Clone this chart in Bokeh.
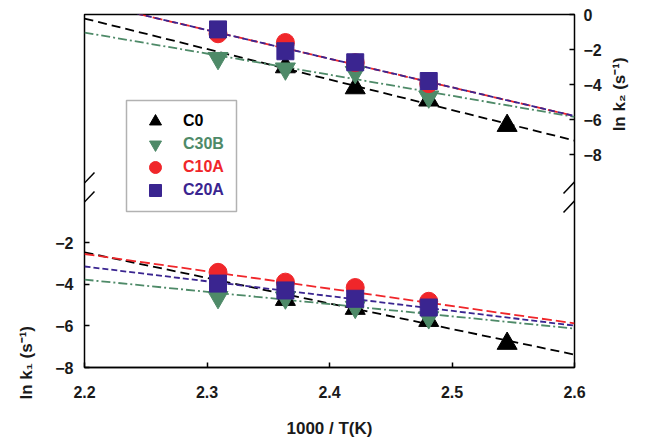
import math
from bokeh.plotting import figure
from bokeh.models import (Range1d, LinearAxis, FixedTicker, Legend, LegendItem,
                          Arrow, BoxAnnotation)
from bokeh.embed import file_html
from bokeh.resources import INLINE

# ---------------- data ----------------
series = ["C0", "C30B", "C10A", "C20A"]
colors = {"C0": "#000000", "C30B": "#4e8a68", "C10A": "#f0262a", "C20A": "#3a2590"}
markers = {"C0": "triangle", "C30B": "inverted_triangle", "C10A": "circle", "C20A": "square"}
msize = {"C0": 20, "C30B": 20, "C10A": 18, "C20A": 17}

x_c0 = [2.364, 2.421, 2.481, 2.545]
x_oth = [2.309, 2.364, 2.421, 2.481]

# ln k2 (upper panel, right axis)
k2_c0 = [-3.0, -4.2, -4.9, -6.35]
k2_c30b = [-2.5, -3.1, -3.3, -4.7]
k2_c10a = [-1.1, -1.6, -2.75, -3.95]
k2_c20a = [-0.85, -2.1, -2.73, -3.8]

# ln k1 (lower panel, left axis)
k1_c0 = [-4.74, -5.17, -5.75, -6.85]
k1_c30b = [-4.63, -4.65, -5.1, -5.6]
k1_c10a = [-3.43, -3.9, -4.16, -4.82]
k1_c20a = [-3.97, -4.3, -4.7, -5.12]

# fitted lines (end points read at x = 2.2 and x = 2.6)
fit_x = [2.2, 2.6]
k2_fit = {"C0": [-0.23, -7.2], "C30B": [-1.03, -5.85],
          "C10A": [0.75, -5.8], "C20A": [0.75, -5.8]}
k1_fit = {"C0": [-2.47, -7.38], "C30B": [-3.78, -6.13],
          "C10A": [-2.55, -5.88], "C20A": [-3.15, -5.99]}
dashes = {"C0": "9 5", "C30B": "9 3 2 3", "C10A": "10 4", "C20A": "6 3"}

k1_ticks = [-8, -6, -4, -2]
k2_ticks = [-8, -6, -4, -2, 0]
x_ticks = [2.2, 2.3, 2.4, 2.5, 2.6]

x_title = "1000 / T(K)"
k1_title = "ln k₁ (s⁻¹)"
k2_title = "ln k₂ (s⁻¹)"

FONT = "Liberation Sans"
NBSP = "\u00a0"

# ---------------- figure ----------------
p = figure(frame_width=490, frame_height=353, output_backend="svg", toolbar_location=None,
           x_range=Range1d(2.2, 2.6), y_range=Range1d(-8, 8.95),
           min_border_left=84, min_border_right=79, min_border_top=14, min_border_bottom=72,
           background_fill_color="white", border_fill_color="white")
p.extra_y_ranges = {"k2": Range1d(-20.17, 0.0)}
p.xgrid.visible = False
p.ygrid.visible = False
p.outline_line_color = "black"
p.outline_line_width = 1.5

right_axis = LinearAxis(y_range_name="k2")
p.add_layout(right_axis, "right")
left_axis = p.yaxis[0]
bottom_axis = p.xaxis[0]

bottom_axis.ticker = FixedTicker(ticks=x_ticks)
left_axis.ticker = FixedTicker(ticks=k1_ticks)
right_axis.ticker = FixedTicker(ticks=k2_ticks)

left_axis.axis_line_color = None
right_axis.axis_line_color = None
bottom_axis.axis_line_color = "black"
bottom_axis.axis_line_width = 1.5

# y titles: k1 title next to the lower panel, k2 title next to the upper panel
bottom_axis.axis_label = x_title
left_axis.axis_label = NBSP * 2 + k1_title
left_axis.axis_label_align = "start"
right_axis.axis_label = NBSP * 50 + k2_title
right_axis.axis_label_orientation = math.pi / 2
right_axis.axis_label_align = "start"

for ax in [bottom_axis, left_axis, right_axis]:
    ax.major_tick_in = 5
    ax.major_tick_out = 0
    ax.major_tick_line_width = 1.5
    ax.major_tick_line_color = "black"
    ax.minor_tick_line_color = None
    ax.major_label_text_font = FONT
    ax.major_label_text_font_style = "bold"
    ax.major_label_text_font_size = "16px"
    ax.major_label_text_color = "#1a1a1a"
    ax.axis_label_text_font = FONT
    ax.axis_label_text_font_style = "bold"
    ax.axis_label_text_font_size = "17px"
    ax.axis_label_text_color = "#1a1a1a"
bottom_axis.major_label_standoff = 18
left_axis.major_label_standoff = 11
right_axis.major_label_standoff = 9
bottom_axis.axis_label_standoff = 18
left_axis.axis_label_standoff = 16
right_axis.axis_label_standoff = 15

# fitted lines
for s in series:
    p.line(fit_x, k2_fit[s], y_range_name="k2", line_color=colors[s], line_width=1.8,
           line_dash=dashes[s])
    p.line(fit_x, k1_fit[s], line_color=colors[s], line_width=1.8, line_dash=dashes[s])

k2_vals = {"C0": k2_c0, "C30B": k2_c30b, "C10A": k2_c10a, "C20A": k2_c20a}
k1_vals = {"C0": k1_c0, "C30B": k1_c30b, "C10A": k1_c10a, "C20A": k1_c20a}

top_renderers = {}
for s in series:
    xs = x_c0 if s == "C0" else x_oth
    top_renderers[s] = p.scatter(xs, k2_vals[s], y_range_name="k2", marker=markers[s],
                                 size=msize[s], fill_color=colors[s], line_color=colors[s])
    p.scatter(xs, k1_vals[s], marker=markers[s], size=msize[s],
              fill_color=colors[s], line_color=colors[s])

# legend: white box + one single-item legend per series (so each label keeps its colour)
p.add_layout(BoxAnnotation(left=42, right=152, bottom=156, top=267,
                           left_units="screen", right_units="screen",
                           bottom_units="screen", top_units="screen",
                           fill_color="white", fill_alpha=1.0,
                           line_color="black", line_width=1.5))
row_bottoms = [229, 206, 183, 160]
for s, yb in zip(series, row_bottoms):
    lg = Legend(items=[LegendItem(label=s, renderers=[top_renderers[s]])],
                location=(56, yb), padding=0, spacing=0, margin=0,
                glyph_width=30, glyph_height=34, label_standoff=13,
                label_text_color=colors[s], label_text_font=FONT,
                label_text_font_style="bold", label_text_font_size="16px",
                border_line_color=None, background_fill_alpha=0.0)
    p.add_layout(lg, "center")

# axis break marks
for x0 in [-10, 479]:
    for y0 in [174, 155]:
        p.add_layout(Arrow(end=None, x_start=x0, y_start=y0, x_end=x0 + 20, y_end=y0 + 21,
                           start_units="screen", end_units="screen",
                           line_color="black", line_width=1.5))

open("out.html", "w").write(file_html(p, INLINE))
